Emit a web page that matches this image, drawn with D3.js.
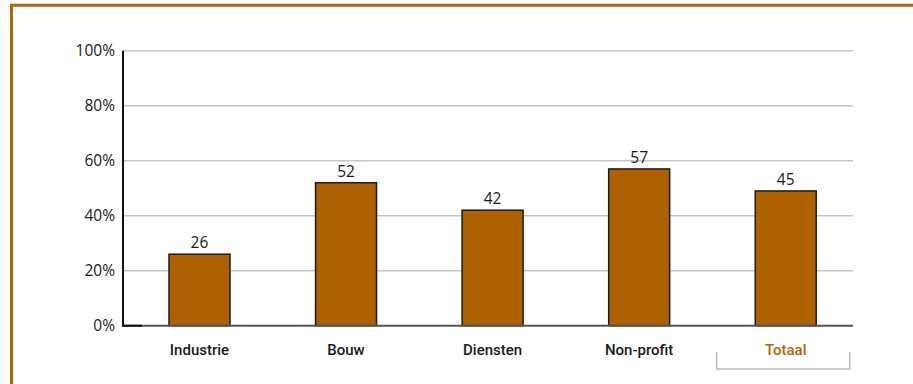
<!DOCTYPE html>
<html>
<head>
<meta charset="utf-8">
<script src="https://cdn.jsdelivr.net/npm/d3@7"></script>
<style>
  body { margin: 0; background: #fff; }
  svg { display: block; }
</style>
</head>
<body>
<div id="chart"></div>
<script>
const categories = ["Industrie", "Bouw", "Diensten", "Non-profit", "Totaal"];
const values = [26, 52, 42, 57, 49];
const valueLabels = ["26", "52", "42", "57", "45"];
const yTicks = [0, 20, 40, 60, 80, 100];

const width = 913;
const height = 384;
const orange = "#b3650c";

const svg = d3.select("#chart")
    .append("svg")
    .attr("width", width)
    .attr("height", height);

// frame (top and left only visible)
svg.append("line")
    .attr("x1", 10).attr("x2", width)
    .attr("y1", 5.3).attr("y2", 5.3)
    .attr("stroke", orange).attr("stroke-width", 3);
svg.append("line")
    .attr("x1", 11.5).attr("x2", 11.5)
    .attr("y1", 4).attr("y2", height)
    .attr("stroke", orange).attr("stroke-width", 3);

const x = d3.scaleBand()
    .domain(categories)
    .range([126.2, 859])
    .paddingInner(0.584)
    .paddingOuter(0.292);

const y = d3.scaleLinear()
    .domain([0, 100])
    .range([325.7, 50.7]);

// gridlines
svg.append("g")
    .selectAll("line")
    .data(yTicks.filter(d => d > 0))
    .join("line")
    .attr("x1", 123).attr("x2", 853)
    .attr("y1", d => y(d)).attr("y2", d => y(d))
    .attr("stroke", "#c6c6c6")
    .attr("stroke-width", 1.5);

// y tick labels
svg.append("g")
    .selectAll("text")
    .data(yTicks)
    .join("text")
    .attr("x", 115)
    .attr("y", d => y(d) + 5.5)
    .attr("text-anchor", "end")
    .attr("font-family", "Open Sans, sans-serif")
    .attr("font-size", 15.5)
    .attr("fill", "#1a1a1a")
    .text(d => d + "%");

// bars
svg.append("g")
    .selectAll("rect")
    .data(values)
    .join("rect")
    .attr("x", (d, i) => x(categories[i]))
    .attr("y", d => y(d))
    .attr("width", x.bandwidth())
    .attr("height", d => y(0) - y(d))
    .attr("fill", "#ad6100")
    .attr("stroke", "#1a1a1a")
    .attr("stroke-width", 1.5);

// value labels
svg.append("g")
    .selectAll("text")
    .data(values)
    .join("text")
    .attr("x", (d, i) => x(categories[i]) + x.bandwidth() / 2)
    .attr("y", d => y(d) - 6)
    .attr("text-anchor", "middle")
    .attr("font-family", "Open Sans, sans-serif")
    .attr("font-size", 15.5)
    .attr("fill", "#1a1a1a")
    .text((d, i) => valueLabels[i]);

// zero line
svg.append("line")
    .attr("x1", 123).attr("x2", 853)
    .attr("y1", y(0)).attr("y2", y(0))
    .attr("stroke", "#555")
    .attr("stroke-width", 2);
svg.append("line")
    .attr("x1", 122).attr("x2", 142)
    .attr("y1", y(0)).attr("y2", y(0))
    .attr("stroke", "#111")
    .attr("stroke-width", 2);

// y axis line
svg.append("line")
    .attr("x1", 123).attr("x2", 123)
    .attr("y1", y(100)).attr("y2", y(0) + 1)
    .attr("stroke", "#111")
    .attr("stroke-width", 2);

// category labels
svg.append("g")
    .selectAll("text")
    .data(categories)
    .join("text")
    .attr("x", d => x(d) + x.bandwidth() / 2)
    .attr("y", 355)
    .attr("text-anchor", "middle")
    .attr("font-family", "Roboto, sans-serif")
    .attr("font-weight", 500)
    .attr("font-size", 15)
    .attr("fill", d => d === "Totaal" ? orange : "#1a1a1a")
    .text(d => d);

// bracket under Totaal
const tot = x("Totaal") + x.bandwidth() / 2;
svg.append("path")
    .attr("d", `M${tot - 69},352 V369 H${tot + 64} V352`)
    .attr("fill", "none")
    .attr("stroke", "#bdbdbd")
    .attr("stroke-width", 1.5);
</script>
</body>
</html>
